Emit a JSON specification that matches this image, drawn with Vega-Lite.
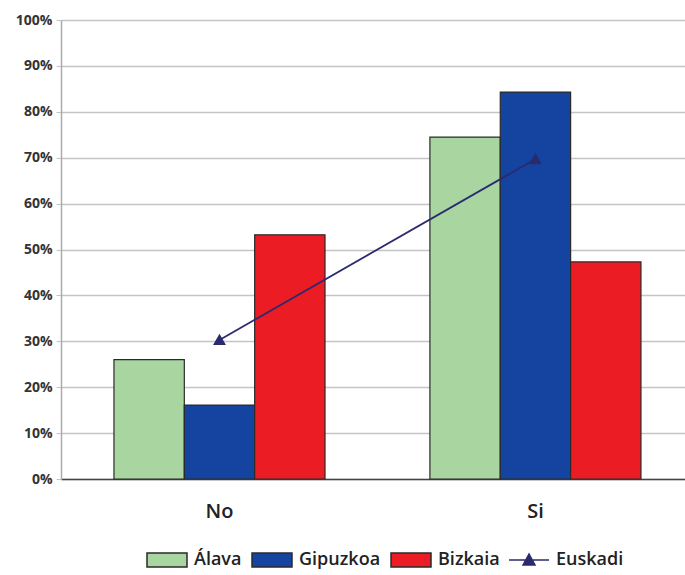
{
  "$schema": "https://vega.github.io/schema/vega-lite/v6.json",
  "width": 624,
  "height": 459,
  "autosize": {"type": "none"},
  "padding": {"left": 61, "top": 20, "right": 0, "bottom": 96},
  "background": "white",
  "config": {
    "view": {"stroke": null},
    "font": "Open Sans",
    "axis": {"labelFont": "Open Sans", "titleFont": "Open Sans"},
    "legend": {"labelFont": "Open Sans"}
  },
  "datasets": {
    "bars": [
      {"answer": "No", "region": "Álava", "value": 0.26},
      {"answer": "No", "region": "Gipuzkoa", "value": 0.161},
      {"answer": "No", "region": "Bizkaia", "value": 0.532},
      {"answer": "Si", "region": "Álava", "value": 0.745},
      {"answer": "Si", "region": "Gipuzkoa", "value": 0.843},
      {"answer": "Si", "region": "Bizkaia", "value": 0.473}
    ],
    "total": [
      {"answer": "No", "series": "Euskadi", "value": 0.303},
      {"answer": "Si", "series": "Euskadi", "value": 0.697}
    ]
  },
  "layer": [
    {
      "data": {"name": "bars"},
      "mark": {"type": "bar", "stroke": "#2a2a2a", "strokeWidth": 1.2},
      "encoding": {
        "x": {
          "field": "answer", "type": "nominal", "sort": ["No", "Si"],
          "scale": {"paddingInner": 0.332, "paddingOuter": 0.1535, "align": 0.546},
          "axis": {
            "title": null, "labelAngle": 0, "labelFontSize": 20, "labelFontWeight": 600, "labelColor": "#222",
            "labelPadding": 22, "ticks": false, "domainColor": "#444", "domainWidth": 1.5, "grid": false
          }
        },
        "xOffset": {"field": "region", "type": "nominal", "sort": ["Álava", "Gipuzkoa", "Bizkaia"]},
        "y": {
          "field": "value", "type": "quantitative",
          "scale": {"domain": [0, 1], "nice": false},
          "axis": {
            "title": null, "format": ".0%", "values": [0,0.1,0.2,0.3,0.4,0.5,0.6,0.7,0.8,0.9,1],
            "labelOverlap": false, "labelFontSize": 14, "labelColor": "#333", "labelFontWeight": "bold",
            "gridColor": "#c4c4c4", "gridWidth": 1.5, "domainColor": "#aaa", "domainWidth": 1.5,
            "tickColor": "#c4c4c4", "tickSize": 5, "labelPadding": 4
          }
        },
        "color": {
          "field": "region", "type": "nominal",
          "scale": {"domain": ["Álava", "Gipuzkoa", "Bizkaia"], "range": ["#a9d6a0", "#1444a0", "#ec1c24"]},
          "legend": {
            "title": null, "orient": "none", "direction": "horizontal",
            "legendX": 85, "legendY": 519,
            "symbolType": "M-1,-0.35H1V0.35H-1Z", "symbolSize": 1600,
            "symbolStrokeColor": "#2a2a2a", "symbolStrokeWidth": 1.5, "symbolOpacity": 1,
            "labelFontSize": 18, "labelFontWeight": 600, "labelColor": "#222", "labelOffset": 6, "columnPadding": 7
          }
        }
      }
    },
    {
      "data": {"name": "total"},
      "mark": {"type": "line", "strokeWidth": 1.8, "point": {"shape": "triangle-up", "size": 90, "filled": true, "color": "#2b2a6e"}},
      "encoding": {
        "x": {"field": "answer", "type": "nominal", "sort": ["No", "Si"]},
        "y": {"field": "value", "type": "quantitative"},
        "stroke": {
          "field": "series", "type": "nominal",
          "scale": {"domain": ["Euskadi"], "range": ["#2b2a6e"]},
          "legend": {
            "title": null, "orient": "none", "legendX": 447, "legendY": 519,
            "symbolType": "M-1,0H1M-0.3,0.25L0,-0.3L0.3,0.25Z", "symbolSize": 1600,
            "symbolFillColor": "#2b2a6e", "symbolStrokeWidth": 1.5,
            "labelFontSize": 18, "labelFontWeight": 600, "labelColor": "#222", "labelOffset": 6
          }
        }
      }
    }
  ]
}
